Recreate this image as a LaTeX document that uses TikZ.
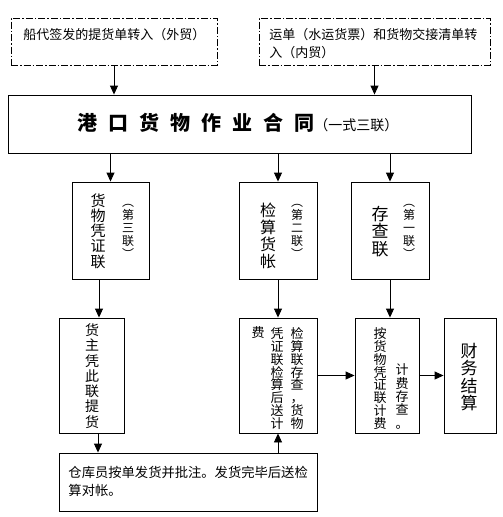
\documentclass[tikz,border=0pt]{standalone}
\usepackage{fontspec}
\setmainfont{Noto Sans CJK SC}
\usetikzlibrary{arrows.meta}
\newcommand\tp{︵}
\newcommand\bp{︶}
\begin{document}
\begin{tikzpicture}[x=1pt,y=-1pt,line width=0.9pt,
  box/.style={draw,rectangle,inner sep=0pt},
  srcbox/.style={box,dash pattern=on 7pt off 2pt on 1.5pt off 2pt},
  arr/.style={-{Triangle[length=9pt,width=8pt]}},
  txt/.style={inner sep=0pt,font=\fontsize{13}{18}\selectfont,align=left},
  vt/.style={inner sep=0pt,align=center}]
\useasboundingbox[fill=white] (0,0) rectangle (503,517);
% boxes
\node[srcbox,minimum width=206pt,minimum height=47pt] (src1) at (114,41.5) {};
\node[srcbox,minimum width=231pt,minimum height=47pt] (src2) at (374.5,41.5) {};
\node[box,minimum width=463pt,minimum height=58pt] (contract) at (239.5,124) {};
\node[box,minimum width=77pt,minimum height=97pt] (c1) at (110.5,230.5) {};
\node[box,minimum width=78pt,minimum height=97pt] (c2) at (278,230.5) {};
\node[box,minimum width=78pt,minimum height=97pt] (c3) at (390,230.5) {};
\node[box,minimum width=65pt,minimum height=115pt] (d1) at (91.5,375.5) {};
\node[box,minimum width=78pt,minimum height=115pt] (d2) at (278,375.5) {};
\node[box,minimum width=64pt,minimum height=115pt] (d3) at (387,375.5) {};
\node[box,minimum width=52pt,minimum height=115pt] (d4) at (470,375.5) {};
\node[box,minimum width=258pt,minimum height=58pt] (e) at (188,482) {};
% texts
\node[txt,anchor=west] (t1) at (23,35) {船代签发的提货单转入（外贸）};
\node[txt,anchor=west] (t2) at (269,44) {运单（水运货票）和货物交接清单转\\入（内贸）};
\node[inner sep=0pt,anchor=west] (title) at (77,123) {\fontsize{20}{20}\selectfont\bfseries 港\hspace{11pt}口\hspace{11pt}货\hspace{11pt}物\hspace{11pt}作\hspace{11pt}业\hspace{11pt}合\hspace{11pt}同\hspace{0pt}\mdseries\fontsize{14}{14}\selectfont（一式三联）};
\node[vt,font=\fontsize{15}{15.3}\selectfont] (c1a) at (98,231) {货\\物\\凭\\证\\联};
\node[vt,font=\fontsize{12}{13}\selectfont] (c1b) at (128,231) {\tp\\第\\三\\联\\\bp};
\node[vt,font=\fontsize{16}{17}\selectfont] (c2a) at (268,236) {检\\算\\货\\帐};
\node[vt,font=\fontsize{12}{13}\selectfont] (c2b) at (297,231) {\tp\\第\\二\\联\\\bp};
\node[vt,font=\fontsize{17}{17.7}\selectfont] (c3a) at (380,231.5) {存\\查\\联};
\node[vt,font=\fontsize{12}{13}\selectfont] (c3b) at (409,231) {\tp\\第\\一\\联\\\bp};
\node[vt,font=\fontsize{14}{15.3}\selectfont] (d1a) at (92,376) {货\\主\\凭\\此\\联\\提\\货};
\node[vt,font=\fontsize{13}{12.9}\selectfont] (d2a) at (297,378.5) {检\\算\\联\\存\\查\\，\\货\\物};
\node[vt,font=\fontsize{13}{12.9}\selectfont] (d2b) at (277,378.5) {凭\\证\\联\\检\\算\\后\\送\\计};
\node[vt,font=\fontsize{13}{12.9}\selectfont] (d2c) at (258,333) {费};
\node[vt,font=\fontsize{13}{12.9}\selectfont] (d3a) at (380,378.5) {按\\货\\物\\凭\\证\\联\\计\\费};
\node[vt,font=\fontsize{13}{13.4}\selectfont] (d3b) at (402,396.5) {计\\费\\存\\查\\。};
\node[vt,font=\fontsize{17}{17.5}\selectfont] (d4a) at (469,377) {财\\务\\结\\算};
\node[txt,anchor=west,font=\fontsize{13.3}{18}\selectfont] (ea) at (68,481) {仓库员按单发货并批注。发货完毕后送检\\算对帐。};
% connectors
\draw[arr] (src1.south) -- (src1.south |- contract.north);
\draw[arr] (src2.south) -- (src2.south |- contract.north);
\draw[arr] (c1.north |- contract.south) -- (c1.north);
\draw[arr] (c2.north |- contract.south) -- (c2.north);
\draw[arr] (c3.north |- contract.south) -- (c3.north);
\draw[arr] ([xshift=-11.5pt]c1.south) -- ([xshift=7.5pt]d1.north);
\draw[arr] (c2.south) -- (d2.north);
\draw[arr] (c3.south) -- (c3.south |- d3.north);
\draw[arr] ([xshift=6.5pt]d1.south) -- ([xshift=6.5pt]d1.south |- e.north);
\draw[arr] (d2.south |- e.north) -- (d2.south);
\draw[arr] (d2.east) -- (d3.west);
\draw[arr] (d3.east) -- (d4.west);
\end{tikzpicture}
\end{document}
